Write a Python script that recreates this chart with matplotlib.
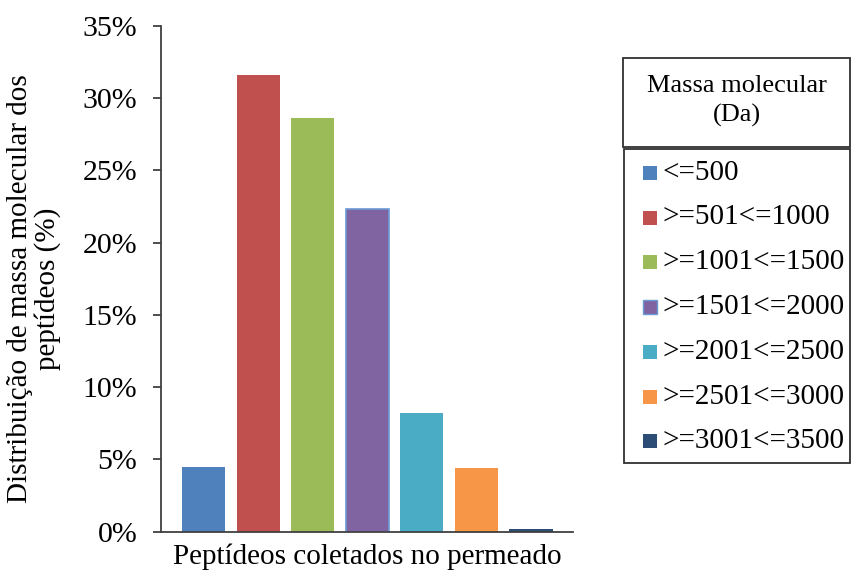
import matplotlib
matplotlib.use("Agg")
import matplotlib.pyplot as plt
from matplotlib.patches import Rectangle

plt.rcParams['font.family'] = ['Liberation Serif', 'DejaVu Serif']

categories = ["<=500", ">=501<=1000", ">=1001<=1500", ">=1501<=2000",
              ">=2001<=2500", ">=2501<=3000", ">=3001<=3500"]
values = [4.5, 31.6, 28.6, 22.3, 8.2, 4.4, 0.2]
colors = ["#4F81BD", "#C0504D", "#9BBB59", "#8064A2", "#4BACC6", "#F79646", "#2C4D75"]
edgecolors = [None, None, None, "#6A9AD3", None, None, None]
yticks = [0, 5, 10, 15, 20, 25, 30, 35]
ytick_labels = ["0%", "5%", "10%", "15%", "20%", "25%", "30%", "35%"]
legend_title = "Massa molecular\n(Da)"
xlabel = "Peptídeos coletados no permeado"
ylabel = "Distribuição de massa molecular dos\npeptídeos (%)"

W, H = 852, 572
fig = plt.figure(figsize=(W / 100, H / 100), dpi=100)
ax_top, ax_bot = 26.0, 531.5
ax_left, ax_right = 161.0, 573.0
ax = fig.add_axes([ax_left / W, 1 - ax_bot / H, (ax_right - ax_left) / W, (ax_bot - ax_top) / H])

axcol = "#404040"
for i, (v, c, ec) in enumerate(zip(values, colors, edgecolors)):
    ax.bar(i, v, width=0.79, color=c,
           edgecolor=ec if ec else c, linewidth=1.2 if ec else 0)

ax.set_xlim(-0.78, 6.77)
ax.set_ylim(0, 35)
ax.set_yticks(yticks)
ax.set_yticklabels(ytick_labels, fontsize=21.5)
ax.set_xticks([])
for s in ["top", "right"]:
    ax.spines[s].set_visible(False)
for s in ["left", "bottom"]:
    ax.spines[s].set_color(axcol)
    ax.spines[s].set_linewidth(1.3)
ax.tick_params(axis="y", direction="out", length=6, width=1.3, color=axcol, pad=11)
ax.set_xlabel(xlabel, fontsize=21, labelpad=8.5)


def fx(px):
    return px / W


def fy(py):
    return 1 - py / H


fig.text(fx(34), fy(289), ylabel, rotation=90, ha="center", va="center",
         fontsize=21, linespacing=1.05, multialignment="center")

# legend title box
fig.patches.append(Rectangle((fx(623), fy(147)), fx(850) - fx(623), fy(58) - fy(147),
                             transform=fig.transFigure, fill=False,
                             edgecolor="#303030", linewidth=1.3))
fig.text(fx(737), fy(101), legend_title, ha="center", va="center", fontsize=19,
         linespacing=1.4)

fig.patches.append(Rectangle((fx(624), fy(463)), fx(850) - fx(624), fy(149) - fy(463),
                             transform=fig.transFigure, fill=False,
                             edgecolor="#303030", linewidth=1.3))
row0, step = 172.7, 44.8
for i, (lab, c, ec) in enumerate(zip(categories, colors, edgecolors)):
    yc = row0 + i * step
    fig.patches.append(Rectangle((fx(643), fy(yc + 7)), 14 / W, 14 / H,
                                 transform=fig.transFigure, facecolor=c,
                                 edgecolor=ec if ec else c, linewidth=1 if ec else 0))
    fig.text(fx(662), fy(yc), lab, ha="left", va="center", fontsize=21)

fig.savefig("out.png", dpi=100)
